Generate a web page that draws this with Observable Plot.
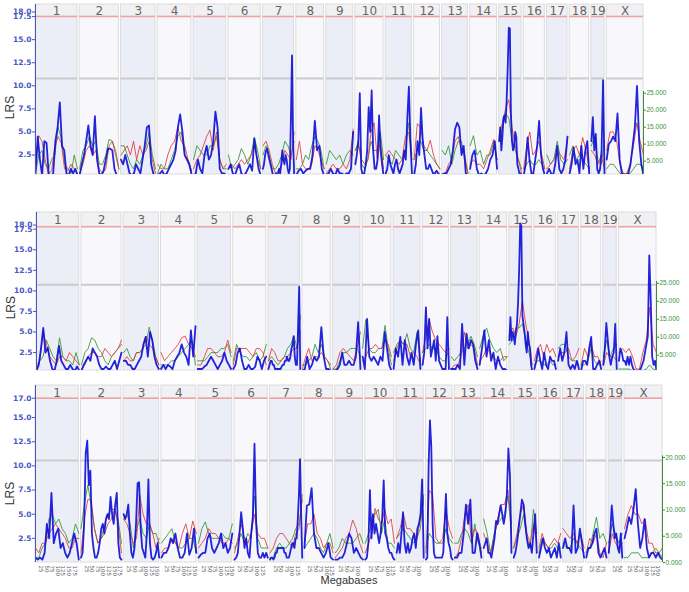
<!DOCTYPE html>
<html><head><meta charset="utf-8">
<script src="https://cdn.jsdelivr.net/npm/d3@7"></script>
<script src="https://cdn.jsdelivr.net/npm/@observablehq/plot@0.6"></script>
<style>
body{margin:0;background:#fff}
#chart{position:relative;width:689px;height:592px;overflow:hidden;background:#fff}
#chart svg{position:absolute;left:0}
</style>
</head><body><div id="chart"></div>
<script>
// ---- chromosomes ----
const chroms = ["1","2","3","4","5","6","7","8","9","10","11","12","13","14","15","16","17","18","19","X"];
const chromLenMb = [195,182,160,157,152,150,145,129,125,131,122,120,120,125,104,98,95,91,61,171];
const gapMb = 10;

// ---- panel 1 (LRS; values evenly spaced along each chromosome) ----
const p1Blue = [
[0.5,4.5,2.0,0.3,4.0,3.8,0.3,0.2,0.5,4.0,5.5,8.2,3.5,3.0,0.5,0.3,1.0,0.5,1.0,0.3],
[0.3,1.5,2.5,4.0,5.7,3.5,2.5,6.7,2.0,0.5,0.3,0.8,2.0,3.2,3.2,3.0,1.0,0.3,0.2],
[2.0,1.5,2.5,1.5,0.5,0.3,0.5,1.5,1.0,0.5,2.0,3.5,5.5,5.7,1.5,0.5,0.2],
[0.3,0.5,0.8,0.3,0.5,1.0,1.5,2.0,3.0,5.5,6.9,5.0,2.5,2.0,1.5,0.5],
[0.3,0.5,2.0,1.0,0.5,2.5,3.5,2.0,2.5,4.0,7.2,5.5,1.0,0.5,0.5,0.3],
[1.0,1.5,0.5,0.3,1.0,1.5,0.5,0.3,0.5,1.0,1.5,0.8,4.3,2.5,1.0,0.3],
[1.0,1.5,2.5,3.0,3.2,2.5,2.0,1.5,1.0,0.5,0.3,0.3,0.5,0.3,0.5,1.0,0.5,1.5,3.0,2.0,1.5,2.5,2.0,1.0,0.5,1.0,6.5,13.3,4.0,0.5],
[0.3,0.8,1.0,0.5,0.8,1.0,1.0,2.5,6.2,3.0,3.5,1.0,0.3],
[0.3,0.5,1.0,0.5,0.3,1.0,0.5,0.5,0.3,0.5,0.5,1.0,5.0],
[1.5,2.5,4.0,9.2,1.0,0.3,0.5,1.5,3.0,7.7,5.0,9.5,3.0,1.0,1.0,2.0,6.8,3.0,1.5,0.3],
[0.5,1.0,2.5,1.5,1.0,0.5,1.5,2.0,1.0,0.5,1.0,1.5,3.0,2.0,6.5,9.9,4.0,0.5],
[0.3,1.5,4.0,2.5,7.6,4.0,2.5,1.0,1.0,1.5,1.0,0.5,0.5,0.8,0.5,0.3],
[0.3,0.5,0.5,1.0,1.5,3.0,5.3,6.0,5.5,2.5,3.5,0.5,0.3],
[1.0,2.5,3.0,1.0,0.3,0.5,0.3,0.5,1.0,2.0,2.5,4.0,1.0],
[4.0,5.5,3.0,4.5,6.5,6.8,6.0,8.5,12.0,16.3,16.2,7.0,4.0,3.0,3.5,5.0,4.5,1.5,1.0,0.5,0.5,0.3],
[0.3,1.5,4.4,2.0,0.5,0.5,2.0,3.5,6.2,2.5,1.0,0.3],
[0.5,1.0,0.5,0.3,1.5,3.5,1.0,0.5,1.0,2.0,4.5],
[0.5,1.5,3.3,1.5,2.0,0.5,3.5,1.0,3.0,4.0,0.5],
[4.0,6.6,3.0,4.8,1.0,0.5,1.0,3.0,10.6,0.5],
[2.0,3.7,4.0,4.5,4.0,7.0,2.0,0.5,0.3,0.3,0.5,1.5,3.5,5.5,10.0,4.0,1.5,0.3]
];
const p1Red = [
[1.0,4.6,4.0,2.0,0.4,0.8,3.5,4.5,3.8,1.0,0.8,1.5,1.0,0.5],
[0.5,1.5,3.0,3.5,2.5,3.0,1.0,0.5,1.0,3.5,4.0,2.5,1.0],
[2.5,3.0,3.5,2.5,4.0,2.0,3.5,2.5,3.0,4.0,2.0,0.5],
[1.5,1.0,1.0,2.5,3.5,4.0,5.5,4.0,3.5,2.0,0.8],
[1.0,2.0,2.5,3.5,4.5,5.2,3.0,5.0,2.0,1.0,1.5],
[1.0,1.5,1.0,1.5,2.0,1.5,2.0,2.5,3.5,2.0,1.0],
[3.5,4.0,3.0,1.5,0.5,0.8,1.5,3.0,2.5,2.0,5.0],
[2.0,4.0,1.5,1.0,1.0,1.5,3.5,3.0,2.0,1.0],
[0.5,1.0,1.5,1.0,1.0,1.5,1.0,2.0,5.3],
[3.0,3.5,2.0,1.5,2.0,5.0,6.0,2.0,4.0,1.0],
[2.5,3.0,2.5,2.0,1.5,2.0,4.5,5.0,2.0],
[2.0,5.9,5.5,3.5,3.0,4.1,2.5,1.5,1.0],
[0.5,0.5,1.5,2.0,4.0,4.5,3.0,2.5,0.5],
[1.5,2.0,1.5,1.5,1.0,2.0,3.0,4.2,2.0],
[4.5,6.0,7.5,8.5,5.5,3.5,2.0,0.5],
[1.0,3.5,5.0,2.5,3.0,4.0,2.5,1.0],
[1.0,1.5,2.0,3.0,2.5,2.0,4.0],
[1.0,3.0,3.5,2.5,4.4,3.0,1.0],
[3.0,2.5,1.5,2.5,1.0],
[3.0,5.0,5.0,4.0,1.5,0.5,0.5,1.5,3.5,6.0,4.0,2.5]
];
// green series, read against the LRS axis (its own axis is on the right)
const p1Green = [
[0.5,2.5,3.0,1.5,1.0,2.0,2.5,5.5,4.3,1.5,1.0,0.5,2.5,1.0],
[1.0,3.0,3.5,4.5,3.5,4.0,1.5,1.5,2.5,4.2,4.0,3.0,1.0],
[3.5,3.5,2.5,1.5,1.0,2.0,1.5,2.5,3.5,5.0,2.5,1.0],
[0.5,1.5,1.0,1.0,2.0,3.0,4.5,5.0,2.5,2.0,0.8],
[2.0,3.5,3.0,2.5,2.5,3.5,3.5,4.5,2.0,1.0,1.0],
[2.5,1.0,1.5,2.0,3.2,2.5,1.5,2.5,4.4,3.0,1.0],
[2.5,3.5,2.5,1.0,1.0,1.5,2.5,4.0,3.5,2.5,4.0],
[1.0,1.0,1.5,2.5,2.0,3.5,4.5,4.0,3.0,1.0],
[1.5,3.0,2.5,2.0,2.5,1.5,2.5,3.0,2.5],
[3.0,4.0,1.5,1.0,2.0,4.0,3.0,3.0,5.0,2.0],
[2.5,2.0,1.5,3.0,2.5,2.0,3.0,6.0,2.5],
[2.0,3.0,4.0,3.0,3.0,2.5,2.0,1.5,1.0],
[3.0,2.5,3.5,1.5,3.0,4.0,4.0,2.0,0.5],
[3.5,4.6,2.5,3.0,1.5,2.5,2.5,4.0,2.0],
[4.0,5.5,7.0,6.5,4.0,3.0,2.0,1.0],
[1.0,1.5,2.0,1.5,1.5,2.0,1.5,1.0],
[2.5,1.5,2.0,4.0,2.0,1.5,2.0],
[2.5,3.5,2.0,2.5,2.0,1.5,1.0],
[3.5,4.5,2.0,1.5,4.0],
[1.0,1.5,1.5,1.0,0.5,0.5,0.5,0.5,1.0,1.5,1.5,1.0]
];

// ---- panel 2 ----
const p2Blue = [
[0.3,1.0,3.0,5.5,2.5,3.1,1.5,0.5,0.3,1.5,3.3,1.5,1.0,0.5,0.5,1.0,0.5,0.3,0.8,0.3],
[0.3,1.0,1.5,2.0,1.5,3.0,2.5,2.0,1.0,0.5,0.5,0.8,0.5,0.5,1.0,1.5,0.5,1.5,2.5],
[1.5,1.5,1.0,1.0,0.5,0.5,1.0,1.5,2.0,3.5,4.4,2.0,5.0,4.0,2.0,1.0,0.5],
[0.5,1.0,0.5,1.0,0.8,0.5,1.5,2.0,2.5,3.5,2.5,2.0,1.0,5.2,2.0,5.7],
[0.5,0.5,0.5,0.8,1.0,1.5,2.0,1.5,1.0,0.5,1.0,1.5,2.5,1.5,1.0,0.5],
[0.5,1.0,2.5,3.0,1.5,0.5,0.5,1.0,0.5,0.5,0.8,2.0,1.5,0.5,1.5,2.0],
[0.5,1.0,1.5,1.5,1.0,1.0,0.5,0.5,0.5,0.5,0.5,0.5,0.8,1.0,1.0,1.5,1.5,2.0,1.5,1.5,2.0,3.0,3.5,4.5,2.0,1.0,1.0,5.5,10.5,0.5],
[0.3,0.5,2.0,0.5,1.0,2.0,1.5,2.0,5.6,2.0,0.5,0.5,0.3],
[0.3,0.3,0.5,1.0,2.5,1.0,1.0,1.5,1.0,1.0,2.0,6.2,0.5],
[2.0,0.5,6.6,2.0,1.5,2.0,1.5,1.0,2.0,1.5,5.0,3.0,1.0,0.3],
[0.5,3.0,2.0,4.4,1.0,4.0,2.0,1.0,2.5,1.0,3.5,5.2,0.5],
[1.0,2.5,8.0,3.0,6.6,2.0,3.0,4.0,1.5,4.5,1.5,1.0,0.5,0.5,0.5,6.8,0.5],
[0.5,0.5,0.5,1.0,0.5,6.0,1.0,4.8,3.0,4.0,3.5,1.5,0.5],
[1.0,3.0,5.2,2.0,4.0,1.5,2.5,0.5,2.0,1.0,0.5,0.5,0.3],
[4.0,6.8,4.0,5.0,4.5,3.5,5.0,6.0,8.5,12.5,18.2,17.9,7.0,6.0,5.0,3.5,2.5,5.0,3.5,3.0,1.0,0.3],
[0.5,1.5,3.0,1.5,0.5,2.5,1.0,0.5,2.0,1.5,1.5,0.5],
[1.5,3.0,1.5,2.5,5.0,1.0,0.5,1.0,0.5,1.5,0.5],
[0.3,1.5,1.5,1.0,3.0,4.4,0.5,0.5,1.0,1.5,0.5],
[1.0,3.0,6.1,4.0,2.0,1.0,2.0,2.5,6.0,0.5],
[1.5,3.0,2.5,1.5,1.5,1.0,2.0,1.0,2.0,1.0,0.5,0.3,0.3,0.3,0.3,0.5,1.0,1.5,2.5,3.5,4.5,14.3,9.0,2.0,1.0,1.5,0.3]
];
const p2Red = [
[0.5,1.5,5.0,3.5,2.0,1.5,1.0,2.0,2.0,1.5,2.5,2.0,1.5,1.0],
[0.5,1.0,2.0,2.5,2.5,2.0,2.0,3.0,2.5,2.0,2.5,3.0,4.0],
[1.5,2.0,1.5,1.5,2.5,2.5,3.0,4.5,3.5,3.0,2.0,1.0],
[2.5,1.5,2.0,2.5,3.0,3.5,4.3,4.5,3.5,3.0,2.0],
[1.0,1.0,2.0,3.0,3.0,2.5,2.0,2.0,2.5,4.0,2.5],
[1.0,3.0,3.0,3.0,3.0,2.5,2.0,3.0,3.0,2.5,1.0],
[1.5,3.0,2.5,1.5,1.5,2.0,2.0,2.5,3.0,3.0,5.0],
[0.5,2.0,3.0,1.5,2.0,2.0,2.5,2.0,1.5,1.0],
[0.5,1.0,2.5,3.0,2.5,2.0,1.5,3.0,5.0],
[1.5,2.0,3.0,3.0,3.5,3.0,3.0,4.0,3.5,2.0],
[1.5,3.0,4.0,3.5,3.5,2.0,2.5,2.0,1.0],
[2.5,4.5,6.5,5.0,4.0,3.5,3.0,2.5,3.0],
[0.5,1.0,1.0,2.0,5.0,3.0,3.5,3.0,1.0],
[1.5,2.0,3.0,2.5,2.0,1.5,1.5,2.0,2.0],
[4.5,5.5,4.5,6.0,8.8,6.0,4.0,1.0],
[1.5,3.0,3.5,2.0,3.5,2.5,3.0,2.0],
[2.0,2.5,2.5,3.0,1.5,2.0,3.0],
[1.0,3.0,2.0,3.5,2.0,2.0,1.0],
[1.0,2.5,2.0,2.0,1.5],
[2.5,3.0,2.5,3.0,2.0,0.5,0.5,2.5,4.0,8.0,3.5,2.5]
];
const p2Green = [
[1.0,1.5,2.0,4.0,3.0,2.0,1.5,4.3,2.0,1.5,1.5,1.0,2.5,1.0],
[1.0,2.5,3.0,4.3,4.0,3.0,2.5,1.5,1.0,2.0,2.5,3.0,3.5],
[2.5,3.0,2.0,1.5,2.5,2.5,3.0,3.5,5.6,4.0,2.0,1.0],
[1.0,1.0,1.0,1.5,1.5,2.0,2.5,3.0,3.5,4.0,1.0],
[1.5,1.5,1.5,2.0,2.5,2.5,2.5,3.0,3.0,3.5,2.0],
[1.5,3.5,2.5,2.0,2.0,1.5,2.0,2.5,1.5,2.0,3.5],
[1.5,2.0,1.5,1.0,1.5,2.0,3.0,3.5,4.5,3.0,7.0],
[1.0,1.0,1.5,2.0,3.5,2.5,3.5,2.0,1.5,0.5],
[0.5,0.5,1.5,2.5,2.5,3.0,3.0,3.0,2.0],
[3.0,6.5,3.0,2.5,2.5,3.0,3.0,5.8,3.0,1.0],
[2.5,3.5,4.0,3.5,4.8,3.0,2.5,5.0,1.5],
[2.5,3.0,3.5,3.0,3.0,2.0,1.5,1.5,3.0],
[2.0,1.5,2.0,2.5,3.0,3.5,4.5,3.5,2.0],
[3.0,4.5,5.5,4.0,3.0,2.5,3.0,1.5,2.0],
[3.5,4.0,5.5,5.5,6.0,4.0,2.5,1.0],
[1.0,1.5,1.5,1.0,1.0,1.5,1.0,1.0],
[3.0,3.5,3.5,2.0,1.5,1.5,1.0],
[1.0,1.0,1.5,3.0,1.5,1.0,1.5],
[2.0,4.0,2.0,3.0,3.5],
[0.5,0.5,0.5,0.5,0.3,0.3,0.3,0.3,0.5,1.0,0.5,0.3]
];

// ---- panel 3 ----
const p3Blue = [
[0.5,0.3,0.5,0.3,1.0,4.0,2.5,7.2,2.0,3.0,3.5,1.5,2.0,1.0,0.5,1.0,2.0,3.0,2.0,0.3],
[0.5,1.0,4.0,11.3,12.6,8.0,9.5,3.0,1.5,0.5,0.5,1.0,2.0,3.5,4.0,3.0,4.5,5.0,4.5,6.8,5.0,4.0,6.0,7.2,2.0,0.5,0.3],
[5.0,4.5,5.0,6.0,3.0,1.0,0.5,1.5,4.0,8.2,8.3,3.5,1.5,1.0,0.5,3.0,8.6,2.0,0.5,0.3,0.5,1.0,2.0,0.5],
[0.5,1.0,1.0,1.5,2.5,2.0,3.0,1.5,0.5,0.5,1.0,3.0,0.8,1.5,3.5,1.0],
[0.5,0.8,1.0,1.0,2.5,3.0,1.5,1.0,1.5,2.0,3.0,1.5,2.0,1.0,1.5,3.0],
[0.3,0.5,1.0,3.0,5.2,3.5,1.5,2.5,1.0,0.5,3.0,4.7,12.3,4.0,1.0,0.5,0.5,1.0,0.5,1.0,0.5],
[0.3,0.5,0.5,0.3,0.5,1.0,1.0,1.5,1.5,1.5,1.5,1.5,1.5,1.0,1.0,0.5,0.5,0.5,1.0,1.5,2.0,2.0,1.5,2.5,2.5,4.5,7.0,10.7,5.0,0.5],
[1.5,5.9,6.0,7.7,3.0,1.5,1.5,1.0,0.5,1.0,2.0,0.5,0.3],
[0.3,0.3,0.5,0.5,1.0,2.0,3.0,2.5,1.0,1.5,1.0,0.5,0.3],
[0.3,0.5,2.0,7.5,2.5,5.0,3.0,4.0,3.0,2.0,3.0,4.5,8.5,3.0,2.5,1.5,1.0,1.0,0.5,0.3],
[1.0,2.0,1.0,3.0,5.2,2.0,1.0,2.0,1.0,1.5,2.5,3.0,1.5,3.5,4.0,5.0,8.6,0.5],
[0.3,0.5,10.0,14.7,12.0,4.0,1.0,0.5,0.5,0.5,0.5,0.5,0.5,1.0,4.0,7.1,3.0,2.0,1.5,0.5,0.3],
[0.5,0.5,1.0,1.0,3.0,6.0,4.0,6.5,1.0,1.0,3.0,2.0,0.5],
[1.5,2.0,2.5,1.0,1.0,0.5,1.5,2.5,4.3,4.0,5.0,5.9,5.0,4.0,5.0,7.0,11.8,9.0,1.0],
[0.5,1.0,2.0,3.5,5.0,6.5,6.0,4.0,2.5,1.5,2.0,1.0,3.0,5.0,1.0],
[0.5,1.5,2.5,1.5,1.0,1.5,0.5,1.0,1.5,0.5,2.0,0.5],
[1.5,2.5,1.5,1.5,1.0,5.9,1.0,1.5,3.5,2.0,0.5],
[0.5,1.5,1.5,2.0,3.0,3.5,1.0,0.5,1.0,1.5,0.5],
[1.0,3.0,5.9,4.0,2.5,3.0,1.5,1.0,3.0,0.5],
[2.5,3.5,4.7,4.0,5.5,7.6,4.0,1.5,2.5,4.5,1.5,0.5,1.0,1.0,0.5,1.0,0.5,0.3]
];
const p3Red = [
[1.5,1.0,2.0,2.0,3.0,3.5,4.0,3.5,3.0,2.5,1.5,1.5,2.5,2.5],
[1.0,4.5,6.5,6.5,3.5,2.0,2.5,3.0,4.0,4.5,5.5,4.0,1.0],
[4.5,4.0,3.0,2.0,2.5,7.0,5.0,4.0,4.0,3.0,1.5,2.5],
[1.0,1.5,1.5,2.5,2.0,1.5,3.0,4.0,2.5,4.3,3.0],
[1.5,2.0,2.5,3.5,3.0,3.0,2.5,2.0,2.0,2.5,2.0],
[1.0,2.5,4.0,2.5,2.0,3.0,5.0,3.0,2.5,2.5,1.5],
[1.0,1.5,2.5,3.0,3.0,2.5,2.0,1.5,3.0,3.5,7.0],
[2.0,4.0,4.0,5.0,3.0,2.5,1.5,2.0,2.0,1.0],
[0.5,1.0,1.5,2.5,3.0,4.4,3.5,2.0,1.0],
[1.0,2.0,3.0,5.6,4.5,4.0,5.5,4.0,4.5,2.0],
[2.5,3.5,5.0,3.5,3.5,3.0,2.5,4.5,6.5],
[1.0,7.5,7.0,2.5,2.0,2.5,5.5,3.5,2.5],
[0.5,1.0,2.5,5.0,6.0,2.0,3.5,3.0,1.0],
[3.0,2.0,1.0,2.5,4.5,6.0,6.0,7.5,4.0],
[1.5,3.0,5.0,6.0,3.0,2.0,4.0,2.0],
[1.5,3.0,2.0,1.5,2.0,2.5,2.0,3.0],
[3.5,3.0,2.5,3.0,2.0,3.0,1.5],
[1.0,2.5,2.0,3.0,1.0,0.5,2.0],
[1.0,3.0,2.0,1.5,2.0],
[3.5,5.0,5.9,5.0,5.0,4.0,4.5,2.0,2.0,1.0,1.0,1.5]
];
const p3Green = [
[0.5,0.5,1.5,2.0,4.5,5.0,4.0,4.5,3.5,3.0,2.0,2.5,4.0,3.0],
[3.5,6.0,8.0,6.0,3.5,2.0,2.5,4.0,5.0,5.5,5.5,4.5,2.0],
[4.5,5.0,4.0,1.5,3.5,4.5,3.0,2.5,4.0,3.0,3.0,2.0],
[2.0,2.5,3.0,3.5,2.0,1.5,1.5,2.0,2.5,2.5,1.0],
[2.0,3.5,4.2,3.0,2.5,2.5,2.5,3.0,2.5,2.5,4.0],
[1.5,2.0,3.0,2.0,3.0,2.5,6.9,2.5,1.5,1.5,1.5],
[0.5,0.5,1.5,2.0,1.5,1.5,2.0,2.5,3.5,4.0,6.5],
[1.5,2.0,2.5,3.0,2.5,1.5,1.0,2.0,3.0,1.5],
[1.0,1.5,2.5,2.0,2.0,2.0,2.5,3.0,2.0],
[2.0,3.0,4.0,5.0,5.5,3.0,4.5,2.0,2.0,1.5],
[2.5,3.0,3.5,3.0,2.5,2.0,2.5,3.5,7.0],
[1.5,3.0,2.5,2.0,2.0,2.0,3.5,2.5,2.0],
[2.0,2.0,3.0,3.5,3.0,2.0,4.0,2.0,1.5],
[4.5,3.0,1.0,3.0,4.0,4.5,5.0,6.9,3.0],
[1.5,2.5,3.5,5.0,2.5,1.5,5.5,3.0],
[1.0,2.5,2.0,1.5,1.5,2.0,1.5,1.5],
[2.0,1.5,1.5,2.5,2.0,1.5,1.0],
[1.0,1.5,3.0,4.7,2.5,3.0,2.0],
[2.0,4.0,3.0,2.0,3.0],
[0.5,0.5,1.0,1.0,1.0,0.5,0.5,0.5,1.0,1.5,1.0,0.5]
];

// ---- axis ticks ----
const lrsTicksA = [2.5,5,7.5,10,12.5,15,17.5,18];
const lrsTicksB = [2.5,5,7.5,10,12.5,15,17];
const rightTicksA = [5,10,15,20,25];
const rightTicksB = [0,5,10,15,20];
const mbTickStep = 25;

// ---- layout helpers ----
const offsets = [];
let acc = 0;
chromLenMb.forEach(l => { offsets.push(acc); acc += l + gapMb; });
const totalMb = acc - gapMb;
const chromRows = chroms.map((c, i) => ({chr: c, start: offsets[i], end: offsets[i] + chromLenMb[i], mid: offsets[i] + chromLenMb[i] / 2, odd: i % 2 === 0}));

function seriesRows(series) {
  const rows = [];
  series.forEach((vals, i) => {
    const n = vals.length;
    vals.forEach((v, j) => rows.push({chr: chroms[i], pos: offsets[i] + j * chromLenMb[i] / (n - 1), v}));
  });
  return rows;
}
const mbTickRows = [];
chroms.forEach((c, i) => {
  for (let m = mbTickStep; m < chromLenMb[i]; m += mbTickStep) mbTickRows.push({pos: offsets[i] + m, t: String(m)});
});

const BLUE = "#0c0cd6", RED = "#e23a3a", GREEN = "#3a9a3a", AXISBLUE = "#4a55c5", AXISGREEN = "#3a8f3a";
const NARROW = "Liberation Sans, Arial, sans-serif";

function panel(cfg) {
  const [y0, y1] = cfg.yDomain;
  const marks = [
    Plot.rect(chromRows.filter(d => d.odd), {x1: "start", x2: "end", y1: () => y0, y2: () => cfg.header, fill: "#eceef7", stroke: "#dcdcdc"}),
    Plot.rect(chromRows.filter(d => !d.odd), {x1: "start", x2: "end", y1: () => y0, y2: () => cfg.header, fill: "#f8f8fc", stroke: "#dcdcdc"}),
    Plot.rect(chromRows, {x1: "start", x2: "end", y1: () => cfg.header, y2: () => y1, fill: "#f1f1f3", stroke: "#dcdcdc"}),
    Plot.text(chromRows, {x: "mid", y: () => (cfg.header + y1) / 2, text: "chr", fontSize: 12, fill: "#666", dy: 1}),
    Plot.ruleY(chromRows, {y: () => cfg.header, x1: "start", x2: "end", stroke: "#f0a2a2", strokeWidth: 1.5}),
    Plot.ruleY(chromRows, {y: () => cfg.gray, x1: "start", x2: "end", stroke: "#cbcbcb", strokeWidth: 2}),
    Plot.line(seriesRows(cfg.green), {x: "pos", y: "v", z: "chr", stroke: GREEN, strokeWidth: 1, strokeOpacity: 0.9, clip: true}),
    Plot.line(seriesRows(cfg.red), {x: "pos", y: "v", z: "chr", stroke: RED, strokeWidth: 1, strokeOpacity: 0.85, clip: true}),
    Plot.line(seriesRows(cfg.blue), {x: "pos", y: "v", z: "chr", stroke: BLUE, strokeWidth: 1.8, strokeOpacity: 0.9, clip: true}),
    Plot.ruleX([0], {y1: () => y0, y2: () => y1, stroke: AXISBLUE, strokeWidth: 1}),
    Plot.axisY(cfg.ticks, {anchor: "left", tickSize: 3, tickPadding: 1, tickFormat: d => d.toFixed(1), fill: AXISBLUE, stroke: AXISBLUE, fontSize: 7.5, fontWeight: "bold", label: null}),
    Plot.ruleX([totalMb], {y1: () => y0, y2: () => cfg.gTop * cfg.gFactor, stroke: AXISGREEN, strokeWidth: 1}),
    Plot.axisY(cfg.gTicks.map(g => g * cfg.gFactor), {anchor: "right", tickSize: 2, tickPadding: 1, tickFormat: d => (d / cfg.gFactor).toFixed(3), fill: AXISGREEN, stroke: AXISGREEN, fontSize: 6.5, fontFamily: NARROW, label: null}),
    Plot.text(["LRS"], {x: () => 0, y: () => cfg.lrsY, dx: -25, rotate: -90, text: d => d, fontSize: 12, fill: "#333", fontFamily: NARROW})
  ];
  if (cfg.xLabels) {
    marks.push(Plot.text(mbTickRows, {x: "pos", y: () => y0, dy: 3, rotate: 90, textAnchor: "start", text: "t", fontSize: 5.5, fill: "#555"}));
    marks.push(Plot.text(["Megabases"], {frameAnchor: "bottom", dy: 21, text: d => d, fontSize: 11, fill: "#333", fontFamily: NARROW}));
  }
  const svg = Plot.plot({
    width: 689, height: cfg.height,
    marginLeft: cfg.ml, marginRight: cfg.mr, marginTop: cfg.mt, marginBottom: cfg.mb,
    x: {domain: [0, totalMb], axis: null},
    y: {domain: cfg.yDomain},
    style: {fontFamily: "DejaVu Sans, sans-serif", background: "transparent", overflow: "visible"},
    marks
  });
  svg.style.top = cfg.top + "px";
  return svg;
}

const chart = document.getElementById("chart");
chart.appendChild(panel({top: 0, height: 195, ml: 35, mr: 46, mt: 4, mb: 21, yDomain: [0.39, 18.81], header: 17.5, gray: 10.8,
  ticks: lrsTicksA, gTicks: rightTicksA, gFactor: 0.368, gTop: 25.5, lrsY: 7.65, blue: p1Blue, red: p1Red, green: p1Green}));
chart.appendChild(panel({top: 200, height: 180, ml: 36, mr: 33, mt: 12, mb: 10, yDomain: [0.32, 19.53], header: 17.8, gray: 10.75,
  ticks: lrsTicksA, gTicks: rightTicksA, gFactor: 0.437, gTop: 25.5, lrsY: 7.96, blue: p2Blue, red: p2Red, green: p2Green}));
chart.appendChild(panel({top: 380, height: 212, ml: 35, mr: 27, mt: 5, mb: 30, yDomain: [0, 18.32], header: 17.0, gray: 10.56,
  ticks: lrsTicksB, gTicks: rightTicksB, gFactor: 0.5435, gTop: 20.3, lrsY: 7.14, blue: p3Blue, red: p3Red, green: p3Green, xLabels: true}));
</script>
</body></html>
